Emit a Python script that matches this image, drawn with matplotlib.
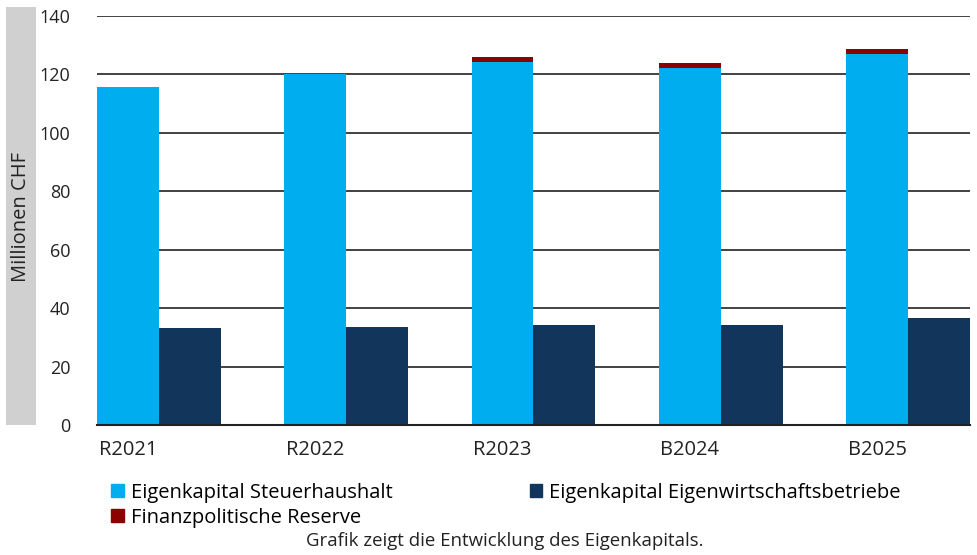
import numpy as np
import matplotlib.pyplot as plt
from matplotlib.patches import Rectangle

# Daten
kategorien = ['R2021', 'R2022', 'R2023', 'B2024', 'B2025']
steuerhaushalt = [115.7, 120.2, 124.4, 122.1, 126.9]
reserve = [0.0, 0.0, 1.7, 1.7, 1.7]
eigenwirtschaft = [33.3, 33.5, 34.2, 34.2, 36.6]

c_hell = '#00aeef'
c_dunkel = '#12365b'
c_rot = '#8b0000'

plt.rcParams['font.family'] = ['Open Sans', 'DejaVu Sans']

fig = plt.figure(figsize=(9.78, 5.55), dpi=100)
ax = fig.add_axes([0.0992, 0.2342, 0.8926, 0.737])

x = np.arange(len(kategorien))
w = 0.33
ax.bar(x - w / 2, steuerhaushalt, w, color=c_hell, zorder=2)
ax.bar(x - w / 2, reserve, w, bottom=steuerhaushalt, color=c_rot, zorder=2)
ax.bar(x + w / 2, eigenwirtschaft, w, color=c_dunkel, zorder=2)

ax.set_xlim(-w, len(kategorien) - 1 + w)
ax.set_ylim(0, 140)
ax.set_yticks(np.arange(0, 141, 20))
ax.set_xticks(x - w / 2)
ax.set_xticklabels(kategorien)
ax.grid(axis='y', color='#222222', linewidth=1.2, zorder=1)
for s in ['top', 'right', 'left']:
    ax.spines[s].set_visible(False)
ax.spines['bottom'].set_color('#222222')
ax.spines['bottom'].set_linewidth(1.5)
ax.tick_params(length=0, colors='#222222')
ax.tick_params(axis='y', pad=19, labelsize=13)
ax.tick_params(axis='x', pad=11, labelsize=14.5)

# graues Band für die Achsenbeschriftung
fig.patches.append(Rectangle((0.0061, 0.2342), 0.0307, 0.7532, transform=fig.transFigure,
                             facecolor='#d0d0d0', edgecolor='none'))
fig.text(0.0215, 0.61, 'Millionen CHF', rotation=90, ha='center', va='center',
         fontsize=14.5, color='#222222')

# Legende
h1 = Rectangle((0, 0), 1, 1, color=c_hell)
h2 = Rectangle((0, 0), 1, 1, color=c_dunkel)
h3 = Rectangle((0, 0), 1, 1, color=c_rot)
fig.legend([h1, h3, h2], ['Eigenkapital Steuerhaushalt', 'Finanzpolitische Reserve',
                          'Eigenkapital Eigenwirtschaftsbetriebe'],
           ncol=2, loc='upper left', bbox_to_anchor=(0.114, 0.13), frameon=False,
           fontsize=14.5, handlelength=0.6, handleheight=0.6, handletextpad=0.35,
           columnspacing=6.85, labelspacing=0.25, borderaxespad=0, borderpad=0)

fig.text(0.516, 0.025, 'Grafik zeigt die Entwicklung des Eigenkapitals.', ha='center',
         va='center', fontsize=13.4, color='#222222')

fig.savefig('out.png', dpi=100)
